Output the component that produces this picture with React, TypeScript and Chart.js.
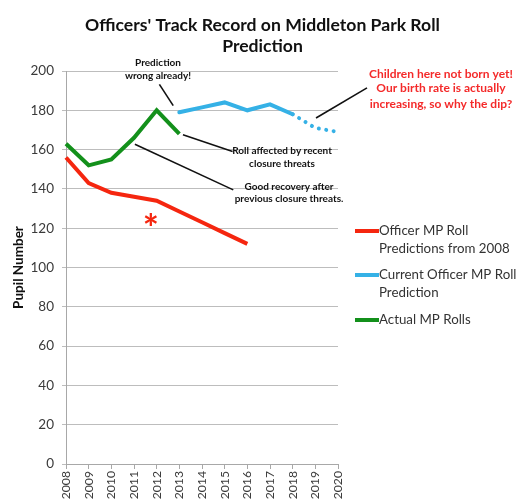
import React, { useEffect, useRef } from "react";
import { Chart, registerables } from "chart.js";

Chart.register(...registerables);

// ---- Data ----
const years = ["2008", "2009", "2010", "2011", "2012", "2013", "2014", "2015", "2016", "2017", "2018", "2019", "2020"];
const officer2008 = [156, 143, 138, 136, 134, 128.5, 123, 117.5, 112, null, null, null, null];
const currentPrediction = [null, null, null, null, null, 179, 181.5, 184, 180, 183, 178, 171, 169];
const actualRolls = [163, 152, 155, 166, 180, 168, null, null, null, null, null, null, null];
const yTicksMax = 200;
const yTickStep = 20;

const titleLines = ["Officers' Track Record on Middleton Park Roll", "Prediction"];
const yAxisTitle = "Pupil Number";
const seriesNames = [
  ["Officer MP Roll", "Predictions from 2008"],
  ["Current Officer MP Roll", "Prediction"],
  ["Actual MP Rolls"],
];

// annotations in data space: x = year index, y = value
const noteTexts = [
  { lines: ["Prediction", "wrong already!"], x: 4.06, y: [204.1, 197.5], red: false },
  { lines: ["Roll affected by recent", "closure threats"], x: 9.53, y: [159.3, 153.0], red: false },
  { lines: ["Good recovery after", "previous closure threats."], x: 9.84, y: [141.2, 134.8], red: false },
  { lines: ["Children here not born yet!", "Our birth rate is actually", "increasing, so why the dip?"], x: 16.54, y: [198.3, 191.2, 183.1], red: true },
];
const noteLeaders = [
  [4.12, 193.2, 4.73, 182.4],
  [5.16, 167.5, 7.35, 159.0],
  [3.04, 162.7, 7.38, 139.5],
  [11.03, 176.1, 13.28, 191.4],
];
const asterisk = { x: 3.74, y: 123.9 };

const RED = "#f5260f";
const BLUE = "#35b1e6";
const GREEN = "#13901b";
const TEXT_RED = "#f42a2a";
const FONT = "Lato, 'Noto Sans', sans-serif";

export default function App() {
  const ref = useRef<HTMLCanvasElement | null>(null);

  useEffect(() => {
    if (!ref.current) return;

    const overlay = {
      id: "overlay",
      afterDraw(chart: any) {
        const ctx = chart.ctx as CanvasRenderingContext2D;
        const xs = chart.scales.x;
        const ys = chart.scales.y;
        const px = (v: number) => xs.getPixelForValue(v);
        const py = (v: number) => ys.getPixelForValue(v);
        const area = chart.chartArea;
        ctx.save();

        // title
        ctx.fillStyle = "#111";
        ctx.font = `bold 17.6px ${FONT}`;
        ctx.textAlign = "center";
        ctx.textBaseline = "middle";
        ctx.fillText(titleLines[0], 262.5, 25);
        ctx.fillText(titleLines[1], 262.5, 46);

        // y axis title
        ctx.save();
        ctx.translate(19, (area.top + area.bottom) / 2);
        ctx.rotate(-Math.PI / 2);
        ctx.font = `bold 13.5px ${FONT}`;
        ctx.fillStyle = "#111";
        ctx.fillText(yAxisTitle, 0, 0);
        ctx.restore();

        // leaders
        ctx.strokeStyle = "#111";
        ctx.lineWidth = 1.6;
        for (const [x1, y1, x2, y2] of noteLeaders) {
          ctx.beginPath();
          ctx.moveTo(px(x1), py(y1));
          ctx.lineTo(px(x2), py(y2));
          ctx.stroke();
        }

        // notes
        for (const n of noteTexts) {
          ctx.font = n.red ? `bold 12px ${FONT}` : `bold 10px ${FONT}`;
          ctx.fillStyle = n.red ? TEXT_RED : "#111";
          n.lines.forEach((t, i) => ctx.fillText(t, px(n.x), py(n.y[i])));
        }

        // asterisk
        ctx.font = `bold 38px ${FONT}`;
        ctx.fillStyle = RED;
        ctx.fillText("*", px(asterisk.x), py(asterisk.y) + 9);

        // legend
        const colors = [RED, BLUE, GREEN];
        const rowY = [231, 275, 320];
        const lx = area.right + 17;
        ctx.font = `13.3px ${FONT}`;
        ctx.textAlign = "left";
        colors.forEach((c, i) => {
          ctx.strokeStyle = c;
          ctx.lineWidth = 4;
          ctx.beginPath();
          ctx.moveTo(lx, rowY[i]);
          ctx.lineTo(lx + 24, rowY[i]);
          ctx.stroke();
          ctx.fillStyle = "#333";
          seriesNames[i].forEach((t, j) => ctx.fillText(t, lx + 24, rowY[i] + j * 17.5));
        });
        ctx.restore();
      },
    };

    const chart = new Chart(ref.current, {
      type: "line",
      data: {
        labels: years,
        datasets: [
          { data: officer2008, borderColor: RED, borderWidth: 4, pointRadius: 0, tension: 0, spanGaps: false },
          {
            data: currentPrediction,
            borderColor: BLUE,
            borderWidth: 4,
            pointRadius: 0,
            tension: 0,
            borderCapStyle: "round",
            segment: {
              borderDash: (c: any) => (c.p0DataIndex >= 10 ? [0.01, 7.5] : undefined),
            },
          },
          { data: actualRolls, borderColor: GREEN, borderWidth: 4, pointRadius: 0, tension: 0 },
        ],
      },
      options: {
        responsive: false,
        animation: false,
        events: [],
        layout: { padding: { top: 71, right: 180, left: 0, bottom: 0 } },
        plugins: { legend: { display: false }, title: { display: false }, tooltip: { enabled: false } },
        scales: {
          x: {
            offset: false,
            grid: { display: true, drawOnChartArea: false, tickLength: 5, color: "#a8a8a8" },
            border: { color: "#a8a8a8" },
            ticks: { minRotation: 90, maxRotation: 90, autoSkip: false, color: "#3a3a3a", font: { family: FONT, size: 12.2 }, padding: 2 },
            afterFit: (s: any) => { s.height = 38; },
          },
          y: {
            min: 0,
            max: yTicksMax,
            grid: { color: "#bdbdbd", tickLength: 4 },
            border: { color: "#a8a8a8" },
            ticks: { stepSize: yTickStep, color: "#3a3a3a", font: { family: FONT, size: 13.5 }, padding: 8 },
            afterFit: (s: any) => { s.width = 66; },
          },
        },
      },
      plugins: [overlay],
    } as any);
    return () => chart.destroy();
  }, []);

  return (
    <div style={{ position: "fixed", left: 0, top: 0, width: 518, height: 502, background: "#fff" }}>
      <canvas ref={ref} width={518} height={502} />
    </div>
  );
}
